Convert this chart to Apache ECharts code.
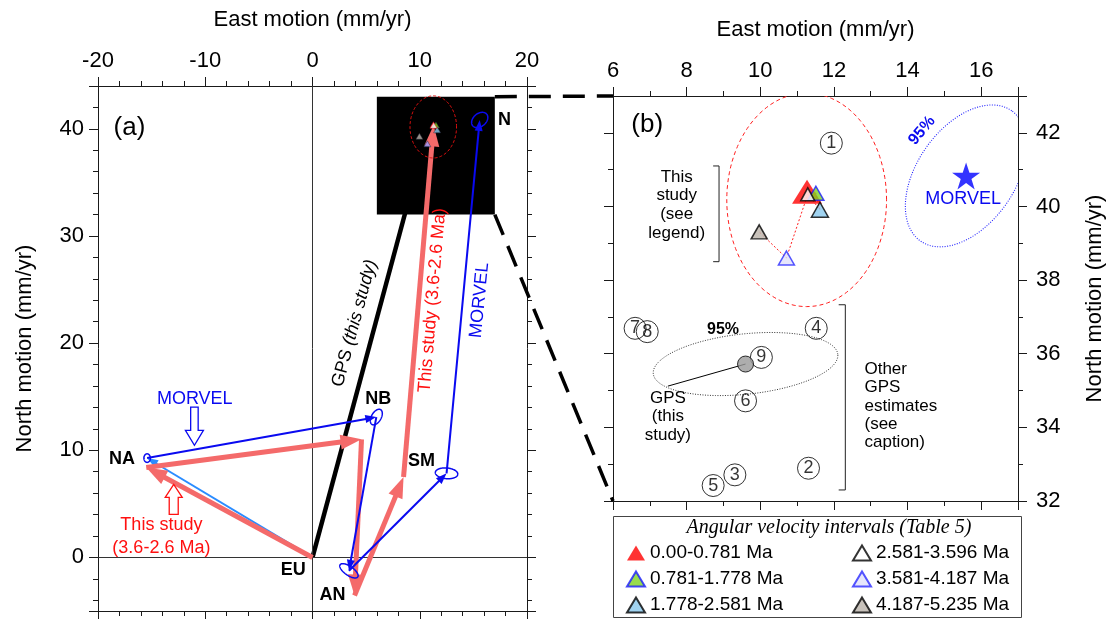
<!DOCTYPE html>
<html>
<head>
<meta charset="utf-8">
<title>Plate circuit velocities</title>
<script src="https://cdn.jsdelivr.net/npm/echarts@6.0.0/dist/echarts.min.js"></script>
<style>
  html, body { margin: 0; padding: 0; background: #fff; }
  #chart { width: 1110px; height: 619px; }
</style>
</head>
<body>
<div id="chart"></div>
<script>
// ---------------- data ----------------
// Axis extents (mm/yr)
const aEastRange = [-20, 20];
const aNorthRange = [-5, 44];
const bEastRange = [6, 17];
const bNorthRange = [32, 43];

// Plate circuit, velocities relative to EU (east, north; mm/yr)
const plates = ['EU', 'NA', 'NB', 'AN', 'SM', 'N'];
const morvelEast  = [0, -15.42, 5.95, 3.40, 12.50, 15.59];
const morvelNorth = [0,   9.27, 13.10, -1.25, 7.85, 40.83];
const studyEast   = [0, -15.50, 4.57, 3.92, 8.49, 11.29];
const studyNorth  = [0,   8.40, 11.02, -3.55, 7.50, 40.33];

// MORVEL uncertainty ellipses at NA, NB, AN, SM, N (semi-axes, rotation in degrees)
const morvelErrMajor = [0.40, 0.80, 1.00, 1.05, 0.85];
const morvelErrMinor = [0.30, 0.45, 0.42, 0.50, 0.60];
const morvelErrAngle = [90, 60, -35, -5, 40];

// GPS estimate (this study)
const gpsEast = 9.60;
const gpsNorth = 35.72;

// 95% ellipses: [east, north, semi-axis 1, semi-axis 2, rotation deg]
const gpsEllipse95    = [gpsEast, gpsNorth, 2.52, 0.82, 6];
const studyEllipse    = [11.26, 40.18, 2.17, 2.90, 0];
const morvelEllipse95 = [15.59, 40.83, 2.16, 1.33, 55];

// Angular velocity intervals (Table 5)
const intervalNames = ['0.00-0.781 Ma', '0.781-1.778 Ma', '1.778-2.581 Ma',
                       '2.581-3.596 Ma', '3.581-4.187 Ma', '4.187-5.235 Ma'];
const intervalEast  = [11.27, 11.51, 11.62, 11.29, 10.71, 9.97];
const intervalNorth = [40.40, 40.36, 39.91, 40.33, 38.60, 39.31];

// Other GPS estimates
const otherGpsIds   = ['1', '2', '3', '4', '5', '6', '7', '8', '9'];
const otherGpsEast  = [11.93, 11.31, 9.31, 11.52, 8.72, 9.60, 6.60, 6.93, 10.03];
const otherGpsNorth = [41.72, 32.89, 32.71, 36.69, 32.42, 34.72, 36.69, 36.60, 35.90];

// ---------------- styling ----------------
const FONT = '"Liberation Sans", Arial, Helvetica, sans-serif';
const SERIF = '"Liberation Serif", "Times New Roman", serif';
const RED = '#f46a6a';
const BLUE = '#0a0af0';

const intervalStyle = [
  { color: '#ff0000', borderColor: '#ff0000', borderWidth: 0,   size: [30, 24], z: 10 },
  { color: '#7ed321', borderColor: '#1a1aff', borderWidth: 1.5, size: [16, 14], z: 11 },
  { color: '#88c8ec', borderColor: '#000000', borderWidth: 1.5, size: [17, 15], z: 12 },
  { color: '#ffffff', borderColor: '#000000', borderWidth: 1.5, size: [14, 13], z: 13 },
  { color: '#e0e0fa', borderColor: '#2b2bff', borderWidth: 1.5, size: [16, 14], z: 11 },
  { color: '#bab3aa', borderColor: '#000000', borderWidth: 1.5, size: [16, 14], z: 11 }
];
const insetColors = ['#ff0000', '#7ed321', '#88c8ec', '#ffffff', '#9a9aff', '#bab3aa'];

const AX = [0, 2]; // axis index used by series of grid 0 / grid 1

// ---------------- helpers ----------------
function axis(o) {
  return {
    type: 'value', gridIndex: o.grid, position: o.pos,
    min: o.range[0], max: o.range[1],
    interval: o.interval, splitNumber: o.split,
    splitLine: { show: false },
    axisLine: { show: true, onZero: false, lineStyle: { color: '#1a1a1a', width: 1 } },
    axisTick: { show: true, inside: false, length: 9, lineStyle: { color: '#1a1a1a', width: 1 } },
    minorTick: { show: true, splitNumber: o.minor, length: 5, lineStyle: { color: '#1a1a1a', width: 1 } },
    axisLabel: {
      show: !!o.labels, color: '#000', fontFamily: FONT, fontSize: 22,
      margin: o.margin || 14, showMinLabel: o.showMin, showMaxLabel: o.showMax
    },
    name: o.name || '', nameLocation: 'middle', nameGap: o.gap || 0, nameRotate: o.rot,
    nameTextStyle: { color: '#000', fontFamily: FONT, fontSize: 22 }
  };
}

function seg(E, N, i, j) { return [E[i], N[i], E[j], N[j]]; }

// straight arrow with a solid triangular head
function arrowSeries(segs, color, width, headLen, headWid, z) {
  return {
    type: 'custom', xAxisIndex: 0, yAxisIndex: 0, z: z, silent: true,
    encode: { x: [0, 2], y: [1, 3] },
    data: segs,
    renderItem: function (params, api) {
      const p0 = api.coord([api.value(0), api.value(1)]);
      const p1 = api.coord([api.value(2), api.value(3)]);
      const dx = p1[0] - p0[0], dy = p1[1] - p0[1];
      const L = Math.hypot(dx, dy) || 1;
      const ux = dx / L, uy = dy / L, nx = -uy, ny = ux;
      const children = [];
      if (headLen > 0) {
        const bx = p1[0] - ux * headLen, by = p1[1] - uy * headLen;
        children.push({ type: 'line', shape: { x1: p0[0], y1: p0[1], x2: bx + ux * 2, y2: by + uy * 2 },
          style: { stroke: color, lineWidth: width, lineCap: 'butt' } });
        children.push({ type: 'polygon', shape: { points: [[p1[0], p1[1]],
          [bx + nx * headWid / 2, by + ny * headWid / 2], [bx - nx * headWid / 2, by - ny * headWid / 2]] },
          style: { fill: color } });
      } else {
        children.push({ type: 'line', shape: { x1: p0[0], y1: p0[1], x2: p1[0], y2: p1[1] },
          style: { stroke: color, lineWidth: width } });
      }
      return { type: 'group', children: children };
    }
  };
}

// rotated ellipse outline: data rows [east, north, semi1, semi2, rotDeg]
function ellipseSeries(grid, rows, style, z, clip) {
  return {
    type: 'custom', xAxisIndex: AX[grid], yAxisIndex: AX[grid], z: z, silent: true, clip: !!clip,
    encode: { x: 0, y: 1 },
    data: rows,
    renderItem: function (params, api) {
      const cx = api.value(0), cy = api.value(1), a = api.value(2), b = api.value(3);
      const r = api.value(4) * Math.PI / 180;
      const pts = [];
      for (let k = 0; k <= 120; k++) {
        const t = k / 120 * 2 * Math.PI;
        const ex = a * Math.cos(t), ey = b * Math.sin(t);
        pts.push(api.coord([cx + ex * Math.cos(r) - ey * Math.sin(r), cy + ex * Math.sin(r) + ey * Math.cos(r)]));
      }
      const el = { type: 'polyline', shape: { points: pts }, style: Object.assign({ fill: null }, style) };
      if (clip) {
        const cs = params.coordSys;
        el.clipPath = { type: 'rect', shape: { x: cs.x, y: cs.y, width: cs.width, height: cs.height } };
      }
      return el;
    }
  };
}

// text annotations anchored at data coordinates
function noteSeries(grid, notes, z) {
  return {
    type: 'custom', xAxisIndex: AX[grid], yAxisIndex: AX[grid], z: z, silent: true,
    encode: { x: 0, y: 1 },
    data: notes.map(n => n.at),
    renderItem: function (params, api) {
      const n = notes[params.dataIndex];
      const p = api.coord([api.value(0), api.value(1)]);
      const style = {
        text: n.text, fill: n.color || '#000',
        fontFamily: FONT, fontSize: n.size || 18, fontWeight: n.weight || 'normal', fontStyle: n.style || 'normal',
        align: n.align || 'center', verticalAlign: 'middle'
      };
      if (n.lh) style.lineHeight = n.lh;
      if (n.rich) style.rich = n.rich;
      return { type: 'text', x: p[0], y: p[1], rotation: (n.rotate || 0) * Math.PI / 180, style: style };
    }
  };
}

// ---------------- annotations ----------------
const notesA = [
  { at: [-17.07, 40.06], text: '(a)', size: 26 },
  { at: [17.91, 40.80], text: 'N', weight: 'bold' },
  { at: [6.14, 14.77], text: 'NB', weight: 'bold' },
  { at: [10.17, 8.98], text: 'SM', weight: 'bold' },
  { at: [-17.77, 9.22], text: 'NA', weight: 'bold' },
  { at: [-1.80, -1.15], text: 'EU', weight: 'bold' },
  { at: [1.87, -3.55], text: 'AN', weight: 'bold' },
  { at: [-10.98, 14.81], text: 'MORVEL', color: BLUE },
  { at: [-14.09, 1.91], text: 'This study\n(3.6-2.6 Ma)', color: '#ff1010', lh: 23 },
  { at: [3.92, 21.85], text: '{n|GPS }{i|(this study)}', rotate: 74.9,
    rich: { n: { fontFamily: FONT, fontSize: 18, fill: '#000' },
            i: { fontFamily: FONT, fontSize: 18, fontStyle: 'italic', fill: '#000' } } },
  { at: [11.19, 24.0], text: 'This study (3.6-2.6 Ma)', color: '#ff1010', rotate: 85.1 },
  { at: [15.58, 24.0], text: 'MORVEL', color: BLUE, rotate: 84.3 }
];

const notesB = [
  { at: [6.93, 42.21], text: '(b)', size: 26 },
  { at: [7.73, 40.04], text: 'This\nstudy\n(see\nlegend)', size: 17, lh: 18.7 },
  { at: [14.39, 42.06], text: '95%', size: 16, weight: 'bold', color: BLUE, rotate: 50 },
  { at: [15.51, 40.20], text: 'MORVEL', color: BLUE },
  { at: [8.99, 36.65], text: '95%', size: 16, weight: 'bold' },
  { at: [7.49, 34.29], text: 'GPS\n(this\nstudy)', size: 17, lh: 18.3 },
  { at: [12.83, 34.58], text: 'Other\nGPS\nestimates\n(see\ncaption)', size: 17, lh: 18.4, align: 'left' }
];

// brackets in panel (b): [east of spine, north top, north bottom, east of tick ends]
const bracketsB = [[8.88, 41.10, 38.50, 8.72], [12.31, 37.33, 32.30, 12.13]];

// hollow pointer arrows in panel (a): [tail east, tail north, tip east, tip north]
const pointersA = [[-11.01, 14.03, -11.01, 10.46], [-12.94, 4.01, -12.94, 6.82]];
const pointerStyle = [
  { color: BLUE, shaft: 7.5, head: 18, headLen: 15 },
  { color: '#ff1010', shaft: 9, head: 17, headLen: 13 }
];

// ---------------- series ----------------
const studySegs = [[0, 1], [1, 2], [2, 3], [3, 4], [4, 5]].map(p => seg(studyEast, studyNorth, p[0], p[1]));
const morvelSegs = [[1, 2], [2, 3], [3, 4], [4, 5]].map(p => seg(morvelEast, morvelNorth, p[0], p[1]));
const morvelEuNa = [seg(morvelEast, morvelNorth, 0, 1)];
const morvelErrRows = morvelErrMajor.map((a, i) =>
  [morvelEast[i + 1], morvelNorth[i + 1], a, morvelErrMinor[i], morvelErrAngle[i]]);

const series = [];

// zero lines of panel (a)
series.push({
  type: 'line', xAxisIndex: 0, yAxisIndex: 0, data: [[0, 0]], symbol: 'none', z: 1, silent: true,
  markLine: { silent: true, symbol: ['none', 'none'], label: { show: false }, animation: false,
    lineStyle: { color: '#333', width: 1, type: 'solid' }, data: [{ xAxis: 0 }, { yAxis: 0 }] }
});

// GPS velocity of N relative to EU
series.push({
  type: 'line', xAxisIndex: 0, yAxisIndex: 0, symbol: 'none', z: 2, silent: true,
  data: [[0, 0], [gpsEast, gpsNorth]], lineStyle: { color: '#000', width: 4.5, cap: 'butt' }
});

// footprint of panel (b) inside panel (a)
series.push({
  type: 'custom', xAxisIndex: 0, yAxisIndex: 0, z: 3, silent: true,
  encode: { x: [0, 2], y: [1, 3] },
  data: [[bEastRange[0], bNorthRange[0], bEastRange[1], bNorthRange[1]]],
  renderItem: function (params, api) {
    const p0 = api.coord([api.value(0), api.value(1)]);
    const p1 = api.coord([api.value(2), api.value(3)]);
    return { type: 'rect', shape: { x: p0[0], y: p1[1], width: p1[0] - p0[0], height: p0[1] - p1[1] },
      style: { fill: '#000' } };
  }
});

series.push(arrowSeries(morvelEuNa, '#2a8cff', 2, 11, 8, 4));
series.push(arrowSeries(studySegs, RED, 5, 21, 15, 5));
series.push(arrowSeries(morvelSegs, BLUE, 2, 11, 8, 6));
series.push(ellipseSeries(0, morvelErrRows, { stroke: BLUE, lineWidth: 1.5 }, 7));
series.push(ellipseSeries(0, [studyEllipse], { stroke: '#e01010', lineWidth: 1, lineDash: [3, 2] }, 7));

// interval poles shown small inside the footprint
series.push({
  type: 'scatter', name: 'inset', xAxisIndex: 0, yAxisIndex: 0, z: 8, silent: true,
  symbol: 'triangle', symbolSize: [7, 6],
  data: intervalEast.map((e, i) => ({ value: [e, intervalNorth[i]],
    itemStyle: { color: insetColors[i], borderColor: insetColors[i] === '#ffffff' ? '#ff0000' : '#223', borderWidth: 0.6 } }))
});

// hollow pointer arrows
series.push({
  type: 'custom', xAxisIndex: 0, yAxisIndex: 0, z: 9, silent: true,
  encode: { x: [0, 2], y: [1, 3] },
  data: pointersA,
  renderItem: function (params, api) {
    const st = pointerStyle[params.dataIndex];
    const p0 = api.coord([api.value(0), api.value(1)]);
    const p1 = api.coord([api.value(2), api.value(3)]);
    const dx = p1[0] - p0[0], dy = p1[1] - p0[1], L = Math.hypot(dx, dy) || 1;
    const ux = dx / L, uy = dy / L, nx = -uy, ny = ux;
    const bx = p1[0] - ux * st.headLen, by = p1[1] - uy * st.headLen;
    const s = st.shaft / 2, h = st.head / 2;
    const pts = [
      [p0[0] + nx * s, p0[1] + ny * s], [bx + nx * s, by + ny * s], [bx + nx * h, by + ny * h],
      [p1[0], p1[1]],
      [bx - nx * h, by - ny * h], [bx - nx * s, by - ny * s], [p0[0] - nx * s, p0[1] - ny * s]
    ];
    return { type: 'polygon', shape: { points: pts }, style: { fill: '#fff', stroke: st.color, lineWidth: 1.3 } };
  }
});

series.push(noteSeries(0, notesA, 9));

// ----- panel (b) -----
series.push(ellipseSeries(1, [studyEllipse], { stroke: '#ff2020', lineWidth: 1, lineDash: [4, 3] }, 3, true));
series.push(ellipseSeries(1, [morvelEllipse95], { stroke: '#2020ff', lineWidth: 1.1, lineDash: [1, 1.5] }, 3, true));
series.push(ellipseSeries(1, [gpsEllipse95], { stroke: '#333', lineWidth: 1, lineDash: [1, 1.5] }, 3, true));

// path through the interval poles
series.push({
  type: 'line', xAxisIndex: 2, yAxisIndex: 2, symbol: 'none', z: 4, silent: true,
  data: intervalEast.map((e, i) => [e, intervalNorth[i]]),
  lineStyle: { color: '#ff2020', width: 1, type: [2, 2] }
});

// leader from the GPS estimate to its label
series.push({
  type: 'line', xAxisIndex: 2, yAxisIndex: 2, symbol: 'none', z: 4, silent: true,
  data: [[gpsEast, gpsNorth], [7.49, 35.12]], lineStyle: { color: '#000', width: 1 }
});

// other GPS estimates (numbered circles)
series.push({
  type: 'scatter', name: 'Other GPS', xAxisIndex: 2, yAxisIndex: 2, z: 5, silent: true,
  symbol: 'circle', symbolSize: 22,
  itemStyle: { color: 'rgba(255,255,255,0)', borderColor: '#000', borderWidth: 1 },
  label: { show: true, position: 'inside', color: '#000', fontFamily: FONT, fontSize: 18, formatter: p => p.name },
  data: otherGpsIds.map((id, i) => ({ name: id, value: [otherGpsEast[i], otherGpsNorth[i]] }))
});

series.push({
  type: 'scatter', name: 'GPS', xAxisIndex: 2, yAxisIndex: 2, z: 6, silent: true,
  symbol: 'circle', symbolSize: 16,
  itemStyle: { color: '#999', borderColor: '#000', borderWidth: 1 },
  data: [[gpsEast, gpsNorth]]
});

series.push({
  type: 'scatter', name: 'MORVEL', xAxisIndex: 2, yAxisIndex: 2, z: 6, silent: true,
  symbol: 'path://M12,0 L14.9,8.6 L24,8.6 L16.6,13.9 L19.4,22.5 L12,17.2 L4.6,22.5 L7.4,13.9 L0,8.6 L9.1,8.6 Z',
  symbolSize: [28, 27], itemStyle: { color: '#0000ff' },
  data: [[morvelEast[5], morvelNorth[5]]]
});

intervalNames.forEach((name, i) => {
  const st = intervalStyle[i];
  series.push({
    type: 'scatter', name: name, xAxisIndex: 2, yAxisIndex: 2, z: st.z, silent: true,
    symbol: 'triangle', symbolSize: st.size,
    itemStyle: { color: st.color, borderColor: st.borderColor, borderWidth: st.borderWidth },
    data: [[intervalEast[i], intervalNorth[i]]]
  });
});

// brackets
series.push({
  type: 'custom', xAxisIndex: 2, yAxisIndex: 2, z: 9, silent: true,
  encode: { x: [0, 3], y: [1, 2] },
  data: bracketsB,
  renderItem: function (params, api) {
    const x = api.value(0), yT = api.value(1), yB = api.value(2), xt = api.value(3);
    const pts = [api.coord([xt, yT]), api.coord([x, yT]), api.coord([x, yB]), api.coord([xt, yB])];
    return { type: 'polyline', shape: { points: pts }, style: { stroke: '#222', lineWidth: 1, fill: null } };
  }
});

series.push(noteSeries(1, notesB, 9));

// ---------------- option ----------------
const legendText = { color: '#000', fontFamily: FONT, fontSize: 19, lineHeight: 20 };
const legendCommon = {
  orient: 'vertical', top: 543, height: 90, itemWidth: 18, itemHeight: 15,
  itemGap: 6, selectedMode: false, padding: 0, textStyle: legendText
};
const option = {
  animation: false,
  backgroundColor: '#fff',
  grid: [
    { left: 98, top: 86, width: 429, height: 525 },
    { left: 613, top: 96, width: 405, height: 405 }
  ],
  xAxis: [
    axis({ grid: 0, pos: 'top', range: aEastRange, interval: 10, minor: 5, labels: true, name: 'East motion (mm/yr)', gap: 55 }),
    axis({ grid: 0, pos: 'bottom', range: aEastRange, interval: 10, minor: 5 }),
    axis({ grid: 1, pos: 'top', range: bEastRange, interval: 2, minor: 2, labels: true, showMax: false, name: 'East motion (mm/yr)', gap: 55 }),
    axis({ grid: 1, pos: 'bottom', range: bEastRange, interval: 2, minor: 2 })
  ],
  yAxis: [
    axis({ grid: 0, pos: 'left', range: aNorthRange, split: 5, minor: 5, labels: true, showMin: false, showMax: false, name: 'North motion (mm/yr)', gap: 62, rot: 90 }),
    axis({ grid: 0, pos: 'right', range: aNorthRange, split: 5, minor: 5 }),
    axis({ grid: 1, pos: 'left', range: bNorthRange, interval: 2, minor: 2 }),
    axis({ grid: 1, pos: 'right', range: bNorthRange, interval: 2, minor: 2, labels: true, showMax: false, name: 'North motion (mm/yr)', gap: 66, rot: 90, margin: 18 })
  ],
  legend: [
    Object.assign({ data: intervalNames.slice(0, 3), left: 626 }, legendCommon),
    Object.assign({ data: intervalNames.slice(3), left: 852 }, legendCommon)
  ],
  series: series
};

const chart = echarts.init(document.getElementById('chart'), null, { renderer: 'canvas' });
chart.setOption(option);

// legend frame, legend title and the dashed lines tying the footprint to panel (b)
const aTop = chart.convertToPixel({ gridIndex: 0 }, [bEastRange[1], bNorthRange[1]]);
const aBot = chart.convertToPixel({ gridIndex: 0 }, [bEastRange[1], bNorthRange[0]]);
const bTop = chart.convertToPixel({ gridIndex: 1 }, [bEastRange[0], bNorthRange[1]]);
const bBot = chart.convertToPixel({ gridIndex: 1 }, [bEastRange[0], bNorthRange[0]]);
chart.setOption({
  graphic: [
    { id: 'legendBox', type: 'rect', z: 0, shape: { x: 613.5, y: 516.5, width: 408, height: 101 },
      style: { fill: '#fff', stroke: '#444', lineWidth: 1 } },
    { id: 'legendTitle', type: 'text', z: 5, x: 829, y: 528,
      style: { text: 'Angular velocity intervals (Table 5)', fontFamily: SERIF, fontSize: 20, fontStyle: 'italic',
        fill: '#000', align: 'center', verticalAlign: 'middle' } },
    { id: 'linkTop', type: 'line', z: 20, shape: { x1: aTop[0], y1: aTop[1], x2: bTop[0], y2: bTop[1] },
      style: { stroke: '#000', lineWidth: 3.5, lineDash: [22, 12] } },
    { id: 'linkBot', type: 'line', z: 20, shape: { x1: aBot[0], y1: aBot[1], x2: bBot[0], y2: bBot[1] },
      style: { stroke: '#000', lineWidth: 3.5, lineDash: [22, 12] } }
  ]
});
</script>
</body>
</html>
